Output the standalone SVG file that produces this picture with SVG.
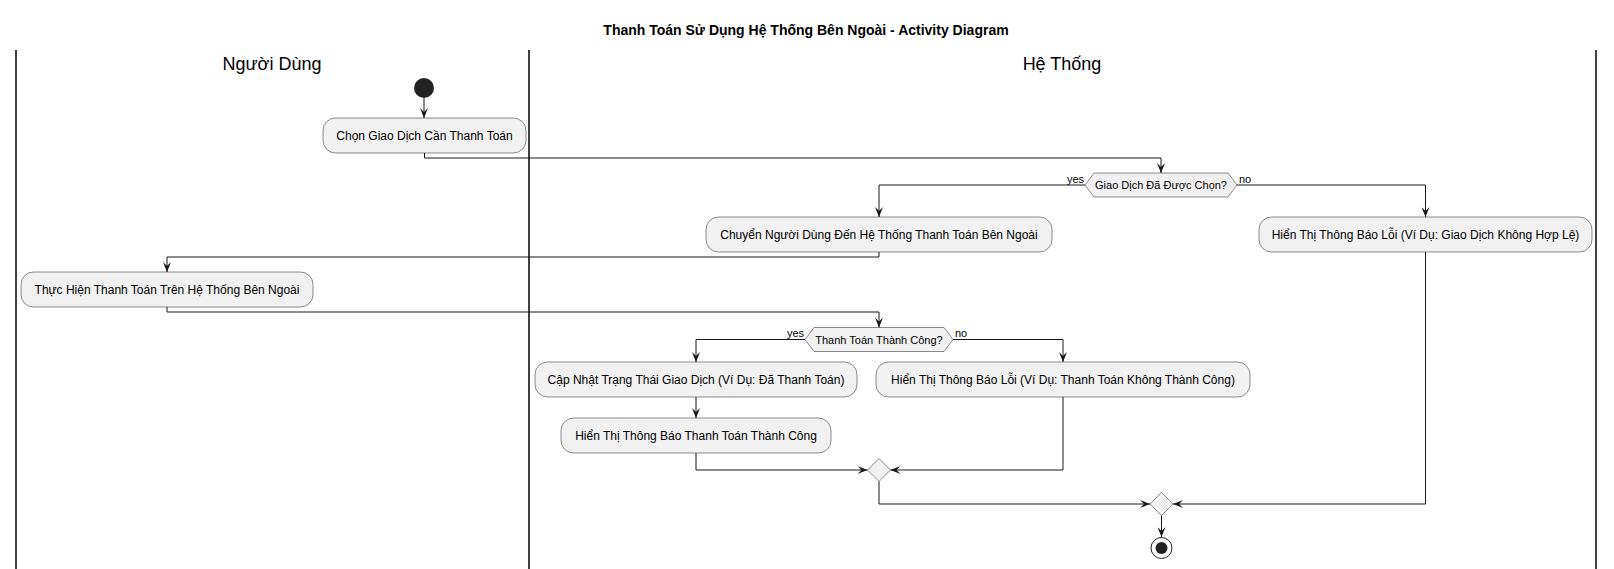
<svg xmlns="http://www.w3.org/2000/svg" width="1614" height="569" viewBox="0 0 1614 569">
<defs>
<marker id="ah" viewBox="0 0 10 8" refX="10" refY="4" markerWidth="10" markerHeight="8" markerUnits="userSpaceOnUse" orient="auto">
<path d="M0,0 L10,4 L0,8 L4,4 Z" fill="#181818"/>
</marker>
</defs>
<style>
.lane{stroke:#000;stroke-width:1.5;fill:none}
.box{fill:#F1F1F1;stroke:#181818;stroke-width:0.5}
.t{font-family:"Liberation Sans",Arial,sans-serif;font-size:12px;fill:#000;text-anchor:middle}
.d{font-family:"Liberation Sans",Arial,sans-serif;font-size:11px;fill:#000;text-anchor:middle}
.lbl{font-family:"Liberation Sans",Arial,sans-serif;font-size:11px;fill:#000}
.hdr{font-family:"Liberation Sans",Arial,sans-serif;font-size:18px;fill:#000;text-anchor:middle}
.conn path{fill:none;stroke:#181818;stroke-width:1;marker-end:url(#ah)}
</style>
<rect width="1614" height="569" fill="#fff"/>
<text x="806" y="35" font-family="Liberation Sans, Arial, sans-serif" font-size="14" font-weight="bold" text-anchor="middle">Thanh Toán Sử Dụng Hệ Thống Bên Ngoài - Activity Diagram</text>
<g id="lanes">
<line class="lane" x1="16" y1="50" x2="16" y2="569"/>
<line class="lane" x1="529" y1="50" x2="529" y2="569"/>
<line class="lane" x1="1596" y1="50" x2="1596" y2="569"/>
<text class="hdr" x="272" y="70">Người Dùng</text>
<text class="hdr" x="1062" y="70">Hệ Thống</text>
</g>
<g class="conn" id="connectors">
<path d="M424,98 V118"/>
<path d="M424.5,153 V158 H1161 V173"/>
<path d="M1085,185 H879 V217"/>
<path d="M1237,185 H1425.5 V217"/>
<path d="M879,252 V257 H167 V272"/>
<path d="M167,307 V312 H879 V327.5"/>
<path d="M805,339.5 H696 V362"/>
<path d="M953,339.5 H1063 V362"/>
<path d="M696,397 V418"/>
<path d="M696,453 V470 H867.5"/>
<path d="M1063,397 V470 H890.5"/>
<path d="M879,481.5 V504 H1150"/>
<path d="M1425.5,252 V504 H1173"/>
<path d="M1161.5,515.5 V537"/>
</g>
<g id="start"><circle cx="424" cy="88" r="10" fill="#222222"/></g>
<g id="n1"><rect class="box" x="323" y="118" width="203" height="35" rx="12.5"/><text class="t" x="424.5" y="140">Chọn Giao Dịch Cần Thanh Toán</text></g>
<g id="dec1"><polygon class="box" points="1085,185 1094,173 1228,173 1237,185 1228,197 1094,197"/><text class="d" x="1161" y="189">Giao Dịch Đã Được Chọn?</text>
<text class="lbl" x="1084" y="183" text-anchor="end">yes</text><text class="lbl" x="1239" y="183">no</text></g>
<g id="n2"><rect class="box" x="706" y="217" width="346" height="35" rx="12.5"/><text class="t" x="879" y="239">Chuyển Người Dùng Đến Hệ Thống Thanh Toán Bên Ngoài</text></g>
<g id="n3"><rect class="box" x="1259" y="217" width="333" height="35" rx="12.5"/><text class="t" x="1425.5" y="239">Hiển Thị Thông Báo Lỗi (Ví Dụ: Giao Dịch Không Hợp Lệ)</text></g>
<g id="n4"><rect class="box" x="21" y="272" width="292" height="35" rx="12.5"/><text class="t" x="167" y="294">Thực Hiện Thanh Toán Trên Hệ Thống Bên Ngoài</text></g>
<g id="dec2"><polygon class="box" points="805,339.5 814,327.5 944,327.5 953,339.5 944,351.5 814,351.5"/><text class="d" x="879" y="343.5">Thanh Toán Thành Công?</text>
<text class="lbl" x="804" y="337" text-anchor="end">yes</text><text class="lbl" x="955" y="337">no</text></g>
<g id="n5"><rect class="box" x="535" y="362" width="322" height="35" rx="12.5"/><text class="t" x="696" y="384">Cập Nhật Trạng Thái Giao Dịch (Ví Dụ: Đã Thanh Toán)</text></g>
<g id="n6"><rect class="box" x="876" y="362" width="374" height="35" rx="12.5"/><text class="t" x="1063" y="384">Hiển Thị Thông Báo Lỗi (Ví Dụ: Thanh Toán Không Thành Công)</text></g>
<g id="n7"><rect class="box" x="561" y="418" width="270" height="35" rx="12.5"/><text class="t" x="696" y="440">Hiển Thị Thông Báo Thanh Toán Thành Công</text></g>
<g id="merge1"><polygon class="box" points="879,458.5 890.5,470 879,481.5 867.5,470"/></g>
<g id="merge2"><polygon class="box" points="1161.5,492.5 1173,504 1161.5,515.5 1150,504"/></g>
<g id="end"><circle cx="1161.5" cy="548" r="10.5" fill="none" stroke="#222222" stroke-width="1"/><circle cx="1161.5" cy="548" r="6" fill="#222222"/></g>
</svg>
